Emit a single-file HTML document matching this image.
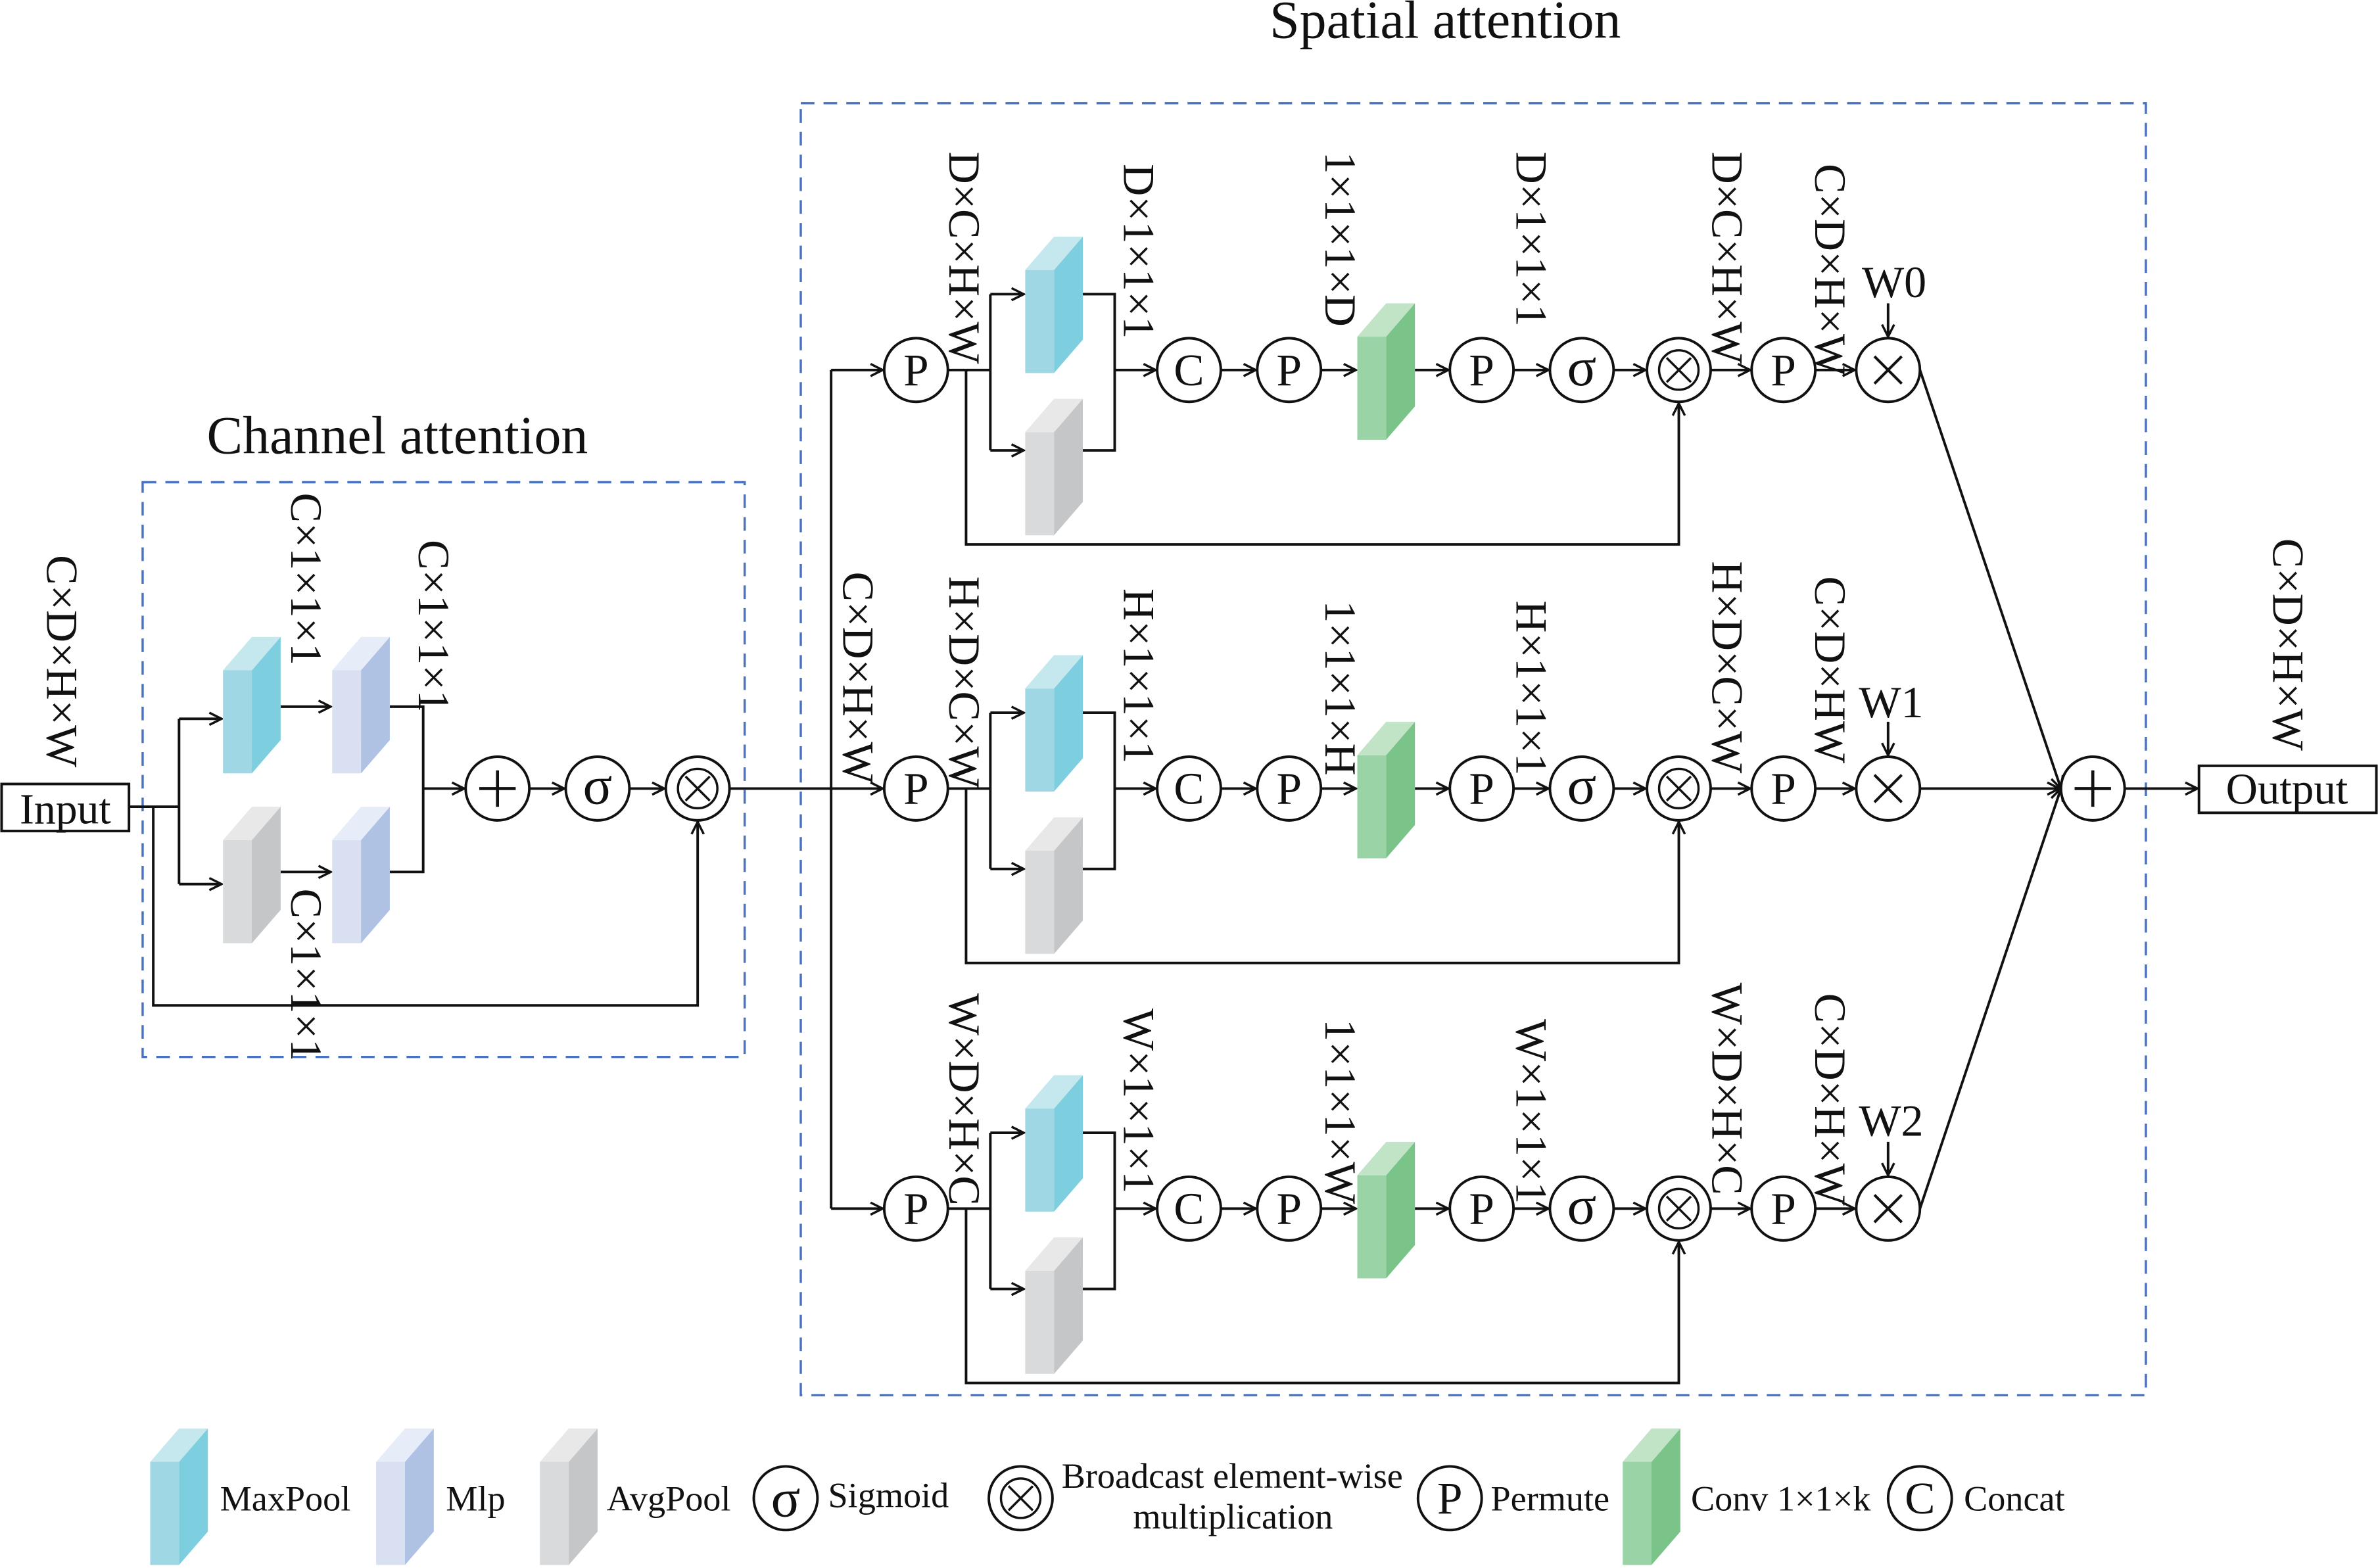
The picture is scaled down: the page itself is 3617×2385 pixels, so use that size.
<!DOCTYPE html>
<html><head><meta charset="utf-8"><style>
html,body{margin:0;padding:0;background:#fff;}
svg{display:block;}
text{font-family:"Liberation Serif",serif;fill:#111;}
</style></head><body>
<svg width="3617" height="2385" viewBox="0 0 1568 1034" xmlns="http://www.w3.org/2000/svg">
<defs>
<marker id="a" markerWidth="10" markerHeight="10" refX="9" refY="5" orient="auto" markerUnits="userSpaceOnUse">
<path d="M1,1 L9,5 L1,9" fill="none" stroke="#111" stroke-width="1.5"/></marker>
<g id="bMax"><rect x="0" y="22" width="19" height="68" fill="#9fd8e4"/><polygon points="19,22 38,0 38,68 19,90" fill="#7dcfe0"/><polygon points="0,22 19,0 38,0 19,22" fill="#c5e8ef"/></g>
<g id="bMlp"><rect x="0" y="22" width="19" height="68" fill="#d8e0f2"/><polygon points="19,22 38,0 38,68 19,90" fill="#b0c2e4"/><polygon points="0,22 19,0 38,0 19,22" fill="#e6ecf8"/></g>
<g id="bAvg"><rect x="0" y="22" width="19" height="68" fill="#d9dadb"/><polygon points="19,22 38,0 38,68 19,90" fill="#c5c6c8"/><polygon points="0,22 19,0 38,0 19,22" fill="#e8e8e9"/></g>
<g id="bGrn"><rect x="0" y="22" width="19" height="68" fill="#9ad3a6"/><polygon points="19,22 38,0 38,68 19,90" fill="#7ac48a"/><polygon points="0,22 19,0 38,0 19,22" fill="#c1e4c7"/></g>
<g id="otimes"><circle r="21" fill="#fff" stroke="#111" stroke-width="1.7"/><circle r="13" fill="none" stroke="#111" stroke-width="1.5"/><path d="M-8,-8 L8,8 M8,-8 L-8,8" stroke="#111" stroke-width="1.5"/></g>
<g id="plus"><circle r="21" fill="#fff" stroke="#111" stroke-width="1.7"/><path d="M-12,0 L12,0 M0,-12 L0,12" stroke="#111" stroke-width="2"/></g>
<g id="times"><circle r="21" fill="#fff" stroke="#111" stroke-width="1.7"/><path d="M-9,-9 L9,9 M9,-9 L-9,9" stroke="#111" stroke-width="1.8"/></g>
<g id="circ"><circle r="21" fill="#fff" stroke="#111" stroke-width="1.7"/></g>

<g id="row" fill="none" stroke="#111" stroke-width="1.7">
<line x1="548" y1="244" x2="582" y2="244" marker-end="url(#a)"/>
<line x1="625" y1="244" x2="653" y2="244"/>
<line x1="653" y1="194" x2="653" y2="297"/>
<line x1="653" y1="194" x2="675" y2="194" marker-end="url(#a)"/>
<line x1="653" y1="297" x2="675" y2="297" marker-end="url(#a)"/>
<polyline points="637,244 637,359 1107,359 1107,266" marker-end="url(#a)"/>
<use href="#bMax" x="676" y="156" stroke="none"/>
<use href="#bAvg" x="676" y="263" stroke="none"/>
<polyline points="714,194 735,194 735,297 714,297"/>
<line x1="735" y1="244" x2="762" y2="244" marker-end="url(#a)"/>
<line x1="805" y1="244" x2="828" y2="244" marker-end="url(#a)"/>
<line x1="871" y1="244" x2="894" y2="244" marker-end="url(#a)"/>
<use href="#bGrn" x="895" y="200" stroke="none"/>
<line x1="933" y1="244" x2="955" y2="244" marker-end="url(#a)"/>
<line x1="998" y1="244" x2="1021" y2="244" marker-end="url(#a)"/>
<line x1="1064" y1="244" x2="1085" y2="244" marker-end="url(#a)"/>
<line x1="1128" y1="244" x2="1154" y2="244" marker-end="url(#a)"/>
<line x1="1197" y1="244" x2="1223" y2="244" marker-end="url(#a)"/>
<line x1="1245" y1="200" x2="1245" y2="222" marker-end="url(#a)"/>
<use href="#circ" x="604" y="244"/>
<use href="#circ" x="784" y="244"/>
<use href="#circ" x="850" y="244"/>
<use href="#circ" x="977" y="244"/>
<use href="#circ" x="1043" y="244"/>
<use href="#otimes" x="1107" y="244"/>
<use href="#circ" x="1176" y="244"/>
<use href="#times" x="1245" y="244"/>
</g>
<g id="rowtxt" font-size="30" text-anchor="middle">
<text x="604" y="254">P</text>
<text x="784" y="254">C</text>
<text x="850" y="254">P</text>
<text x="977" y="254">P</text>
<text x="1043" y="254" font-size="36">σ</text>
<text x="1176" y="254">P</text>
</g>
</defs>

<!-- Channel attention -->
<rect x="94" y="318" width="397" height="379" fill="none" stroke="#4a72c0" stroke-width="1.5" stroke-dasharray="9,6"/>
<text x="262" y="299" font-size="35.5" text-anchor="middle">Channel attention</text>
<rect x="1" y="517" width="84" height="31" fill="#fff" stroke="#111" stroke-width="1.7"/>
<text x="43" y="543" font-size="28.5" text-anchor="middle">Input</text>
<text transform="translate(31,366) rotate(90)" font-size="29.5">C×D×H×W</text>
<g fill="none" stroke="#111" stroke-width="1.7">
<line x1="85" y1="532" x2="118" y2="532"/>
<line x1="118" y1="474" x2="118" y2="583"/>
<line x1="118" y1="474" x2="146" y2="474" marker-end="url(#a)"/>
<line x1="118" y1="583" x2="146" y2="583" marker-end="url(#a)"/>
<polyline points="101,532 101,663 460,663 460,542" marker-end="url(#a)"/>
<line x1="185" y1="466" x2="218" y2="466" marker-end="url(#a)"/>
<line x1="185" y1="575" x2="218" y2="575" marker-end="url(#a)"/>
<polyline points="257,466 279,466 279,575 257,575"/>
<line x1="279" y1="520" x2="306" y2="520" marker-end="url(#a)"/>
<line x1="349" y1="520" x2="372" y2="520" marker-end="url(#a)"/>
<line x1="415" y1="520" x2="438" y2="520" marker-end="url(#a)"/>
<line x1="481" y1="520" x2="548" y2="520"/>
<line x1="548" y1="244" x2="548" y2="797"/>
</g>
<use href="#bMax" x="147" y="420"/>
<use href="#bMlp" x="219" y="420"/>
<use href="#bAvg" x="147" y="532"/>
<use href="#bMlp" x="219" y="532"/>
<use href="#plus" x="328" y="520"/>
<use href="#circ" x="394" y="520"/>
<text x="394" y="530" font-size="36" text-anchor="middle">σ</text>
<use href="#otimes" x="460" y="520"/>
<g font-size="29.5">
<text transform="translate(192,325) rotate(90)">C×1×1×1</text>
<text transform="translate(276,356) rotate(90)">C×1×1×1</text>
<text transform="translate(192,586) rotate(90)">C×1×1×1</text>
</g>

<!-- Spatial attention -->
<rect x="528" y="68" width="887" height="852" fill="none" stroke="#4a72c0" stroke-width="1.5" stroke-dasharray="9,6"/>
<text x="953" y="25" font-size="35.5" text-anchor="middle">Spatial attention</text>
<text transform="translate(556,377) rotate(90)" font-size="29.5">C×D×H×W</text>

<use href="#row"/><use href="#rowtxt"/>
<use href="#row" y="276"/><use href="#rowtxt" y="276"/>
<use href="#row" y="553"/><use href="#rowtxt" y="553"/>

<g font-size="29.5">
<text transform="translate(626,100) rotate(90)">D×C×H×W</text>
<text transform="translate(741,108) rotate(90)">D×1×1×1</text>
<text transform="translate(874,100) rotate(90)">1×1×1×D</text>
<text transform="translate(1000,100) rotate(90)">D×1×1×1</text>
<text transform="translate(1129,100) rotate(90)">D×C×H×W</text>
<text transform="translate(1197,108) rotate(90)">C×D×H×W</text>
<text x="1249" y="196" text-anchor="middle">W0</text>

<text transform="translate(626,380) rotate(90)">H×D×C×W</text>
<text transform="translate(741,388) rotate(90)">H×1×1×1</text>
<text transform="translate(874,396) rotate(90)">1×1×1×H</text>
<text transform="translate(1000,396) rotate(90)">H×1×1×1</text>
<text transform="translate(1129,370) rotate(90)">H×D×C×W</text>
<text transform="translate(1197,380) rotate(90)">C×D×HW</text>
<text x="1247" y="473" text-anchor="middle">W1</text>

<text transform="translate(626,655) rotate(90)">W×D×H×C</text>
<text transform="translate(741,665) rotate(90)">W×1×1×1</text>
<text transform="translate(874,672) rotate(90)">1×1×1×W</text>
<text transform="translate(1000,672) rotate(90)">W×1×1×1</text>
<text transform="translate(1129,648) rotate(90)">W×D×H×C</text>
<text transform="translate(1197,655) rotate(90)">C×D×H×W</text>
<text x="1247" y="749" text-anchor="middle">W2</text>

<text transform="translate(1499,355) rotate(90)">C×D×H×W</text>
</g>

<g fill="none" stroke="#111" stroke-width="1.7">
<line x1="1266" y1="244" x2="1359" y2="520" marker-end="url(#a)"/>
<line x1="1266" y1="520" x2="1358" y2="520" marker-end="url(#a)"/>
<line x1="1266" y1="797" x2="1359" y2="520" marker-end="url(#a)"/>
<line x1="1401" y1="520" x2="1449" y2="520" marker-end="url(#a)"/>
</g>
<use href="#plus" x="1380" y="520"/>
<rect x="1450" y="505" width="117" height="31" fill="#fff" stroke="#111" stroke-width="1.7"/>
<text x="1508" y="530" font-size="29" text-anchor="middle">Output</text>

<!-- Legend -->
<use href="#bMax" x="99" y="942"/>
<use href="#bMlp" x="248" y="942"/>
<use href="#bAvg" x="356" y="942"/>
<use href="#bGrn" x="1070" y="942"/>
<use href="#circ" x="518" y="988"/>
<text x="518" y="1000" font-size="36" text-anchor="middle">σ</text>
<use href="#otimes" x="673" y="988"/>
<use href="#circ" x="956" y="988"/>
<text x="956" y="998" font-size="30" text-anchor="middle">P</text>
<use href="#circ" x="1266" y="988"/>
<text x="1266" y="998" font-size="30" text-anchor="middle">C</text>
<g font-size="23.5">
<text x="145" y="996">MaxPool</text>
<text x="294" y="996">Mlp</text>
<text x="400" y="996">AvgPool</text>
<text x="546" y="994">Sigmoid</text>
<text x="700" y="981">Broadcast element-wise</text>
<text x="813" y="1008" text-anchor="middle">multiplication</text>
<text x="983" y="996">Permute</text>
<text x="1115" y="996">Conv 1×1×k</text>
<text x="1295" y="996">Concat</text>
</g>
</svg>
</body></html>
